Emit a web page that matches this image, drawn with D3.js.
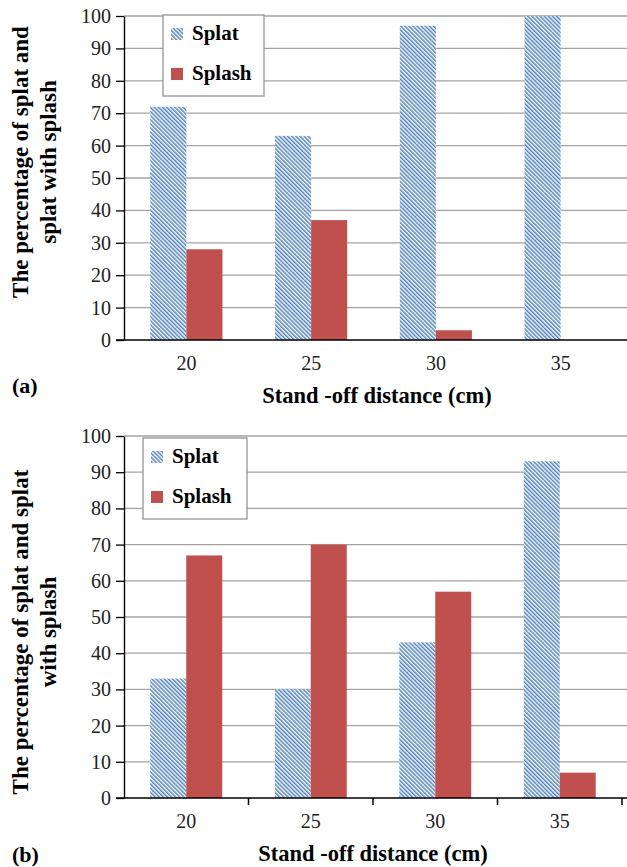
<!DOCTYPE html>
<html>
<head>
<meta charset="utf-8">
<script src="https://cdn.jsdelivr.net/npm/d3@7"></script>
</head>
<body style="margin:0">
<svg width="627" height="867"></svg>
<script>
// data
const categories = ["20", "25", "30", "35"];
const series = ["Splat", "Splash"];
const splatA = [72, 63, 97, 100];
const splashA = [28, 37, 3, 0];
const splatB = [33, 30, 43, 93];
const splashB = [67, 70, 57, 7];
const yTicks = [0, 10, 20, 30, 40, 50, 60, 70, 80, 90, 100];
const xTitle = "Stand -off distance (cm)";

const FONT = '"Liberation Serif"';
const svg = d3.select("svg");
const blue = "#4f81bd", red = "#c0504d";

// diagonal hatch for the splat bars
const defs = svg.append("defs");
const pat = defs.append("pattern")
  .attr("id", "hatch")
  .attr("patternUnits", "userSpaceOnUse")
  .attr("width", 2.9).attr("height", 10)
  .attr("patternTransform", "rotate(-45)");
pat.append("rect").attr("width", 2.9).attr("height", 10).attr("fill", "#fff");
pat.append("rect").attr("width", 1.5).attr("height", 10).attr("fill", blue);

const fills = { Splat: "url(#hatch)", Splash: red };

function txt(sel) {
  return sel.append("text").style("font-family", FONT);
}

function panel(p) {
  const g = svg.append("g");
  const x0 = d3.scaleBand().domain(categories).range([p.left, p.right]);
  const x1 = d3.scaleBand().domain(series).range([0, x0.bandwidth()]).paddingOuter(0.73);
  const y = d3.scaleLinear().domain([0, 100]).range([p.bottom, p.top]);

  // gridlines
  g.append("g").selectAll("line")
    .data(yTicks.filter(t => t > 0))
    .join("line")
    .attr("x1", p.left).attr("x2", 627)
    .attr("y1", d => y(d)).attr("y2", d => y(d))
    .attr("stroke", "#a3a3a3").attr("stroke-width", 1.3);

  // bars
  const rows = categories.map((c, i) => ({ cat: c, Splat: p.splat[i], Splash: p.splash[i] }));
  g.append("g").selectAll("g")
    .data(rows)
    .join("g")
    .attr("transform", d => `translate(${x0(d.cat)},0)`)
    .selectAll("rect")
    .data(d => series.map(s => ({ s, v: d[s] })))
    .join("rect")
    .attr("x", d => x1(d.s))
    .attr("width", x1.bandwidth())
    .attr("y", d => y(d.v))
    .attr("height", d => p.bottom - y(d.v))
    .attr("fill", d => fills[d.s]);

  // y axis
  const ya = g.append("g")
    .attr("transform", `translate(${p.left},0)`)
    .call(d3.axisLeft(y).tickValues(yTicks).tickSize(8).tickSizeOuter(0).tickPadding(5));
  ya.select(".domain").attr("stroke", "#000").attr("stroke-width", 1.4);
  ya.selectAll(".tick line").attr("stroke", "#000").attr("stroke-width", 1.3);
  ya.selectAll(".tick text")
    .style("font-family", FONT).attr("font-size", 20).attr("fill", "#222");

  // x axis line
  g.append("line")
    .attr("x1", p.left - 8).attr("x2", 627)
    .attr("y1", p.bottom).attr("y2", p.bottom)
    .attr("stroke", "#000").attr("stroke-width", 1.5);

  if (p.catTicks) {
    g.append("g").selectAll("line")
      .data(categories)
      .join("line")
      .attr("x1", d => x0(d) + x0.bandwidth()).attr("x2", d => x0(d) + x0.bandwidth())
      .attr("y1", p.bottom).attr("y2", p.bottom + 7)
      .attr("stroke", "#000").attr("stroke-width", 1.5);
  }

  g.append("g").selectAll("text")
    .data(categories)
    .join("text")
    .style("font-family", FONT)
    .attr("x", d => x0(d) + x1("Splash"))
    .attr("y", p.bottom + 30)
    .attr("text-anchor", "middle")
    .attr("font-size", 20).attr("fill", "#222")
    .text(d => d);

  // axis titles
  txt(g)
    .attr("x", p.xTitleX).attr("y", p.bottom + 63)
    .attr("text-anchor", "middle")
    .attr("font-size", 22.5).attr("font-weight", "bold")
    .text(xTitle);

  const yt = txt(g)
    .attr("transform", `translate(0,${p.yTitleY}) rotate(-90)`)
    .attr("text-anchor", "middle")
    .attr("font-size", 23).attr("font-weight", "bold");
  p.yTitle.forEach((line, i) => {
    yt.append("tspan").attr("x", 0).attr("y", i === 0 ? 28 : 56).text(line);
  });

  txt(g)
    .attr("x", 12).attr("y", p.labelY)
    .attr("font-size", 22).attr("font-weight", "bold")
    .text(p.label);

  // legend
  const lg = g.append("g").attr("transform", `translate(${p.legend[0]},${p.legend[1]})`);
  lg.append("rect")
    .attr("width", p.legend[2]).attr("height", 81)
    .attr("fill", "#fff").attr("stroke", "#8c8c8c").attr("stroke-width", 1.2);
  series.forEach((s, i) => {
    lg.append("rect")
      .attr("x", 8).attr("y", 13 + i * 40)
      .attr("width", 12).attr("height", 12)
      .attr("fill", fills[s]);
    txt(lg)
      .attr("x", 29).attr("y", 25 + i * 40)
      .attr("font-size", 21).attr("font-weight", "bold")
      .text(s);
  });
}

panel({
  splat: splatA, splash: splashA,
  left: 124, right: 623, top: 16, bottom: 340,
  catTicks: false,
  xTitleX: 377,
  yTitle: ["The percentage of splat and", "splat with splash"], yTitleY: 162,
  label: "(a)", labelY: 393,
  legend: [163, 15, 101]
});

panel({
  splat: splatB, splash: splashB,
  left: 124, right: 622, top: 436, bottom: 798,
  catTicks: true,
  xTitleX: 373,
  yTitle: ["The percentage of splat and splat", "with splash"], yTitleY: 632,
  label: "(b)", labelY: 862,
  legend: [143, 438, 104]
});
</script>
</body>
</html>
